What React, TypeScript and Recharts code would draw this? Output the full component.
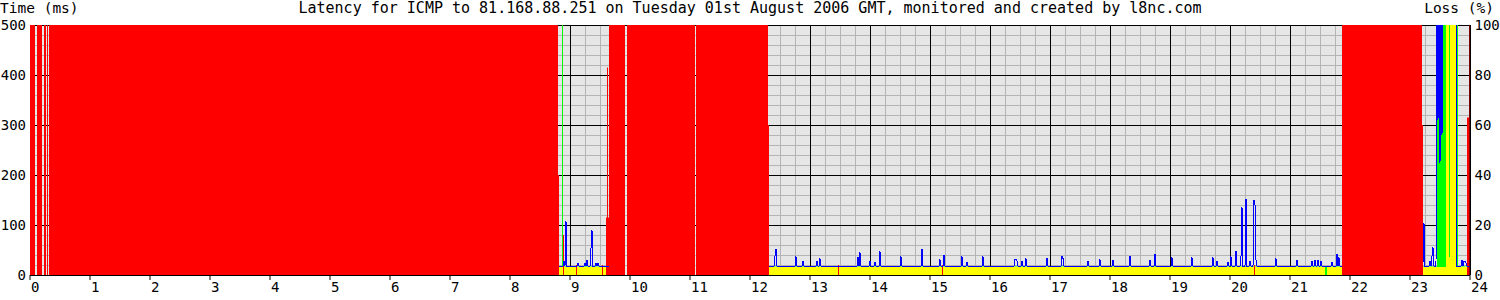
import { ComposedChart, Area, Line, XAxis, YAxis, CartesianGrid } from "recharts";

// one sample per minute of the day
const DAY_MINUTES = 1440;

// red: packet loss in %, [startMinute, endMinute (exclusive), percent]
const lossSpans: [number, number, number][] = [
  [0, 5, 100], [7, 12, 100], [14, 16, 100], [17, 18, 100], [19, 528, 100], [528, 529, 40],
  [533, 534, 16], [546, 547, 4], [572, 573, 4],
  [576, 577, 23], [577, 578, 83], [578, 579, 23], [579, 595, 100],
  [597, 665, 100], [666, 738, 100], [738, 739, 60],
  [808, 809, 4], [912, 913, 4], [1224, 1225, 4],
  [1312, 1392, 100], [1392, 1393, 60],
  [1437, 1439, 63], [1439, 1440, 100],
];

// minutes (inclusive) where latency was measured
const upSpans: [number, number][] = [
  [529, 579],
  [739, 1312],
  [1393, 1440],
];

// typical values in the measured periods (ms)
const baseMin = 16;
const baseMax = 17;
const baseAvg = 18;

// yellow floor, green ceiling and blue line overrides: [start, end (exclusive), ms]
const minOverrides: [number, number, number][] = [
  [1416, 1427, 600],
  [1419, 1420, 36],
];
const maxOverrides: [number, number, number][] = [
  [532, 533, 600],
  [1407, 1428, 600],
];
const avgOverrides: [number, number, number][] = [
  [1407, 1427, 600],
];

// blue spikes: [minute, ms]
const avgSpikes: [number, number][] = [
  [534, 27], [536, 108], [548, 24], [555, 23], [557, 30], [561, 54], [562, 90], [566, 24], [568, 24],
  [745, 37], [746, 52], [766, 37], [773, 27], [787, 27], [790, 33], [828, 36], [830, 45],
  [840, 27], [845, 25], [850, 47], [871, 37], [892, 52], [910, 31], [914, 40], [932, 37],
  [937, 25], [953, 37], [985, 31], [986, 31], [987, 28], [992, 27], [996, 33], [1017, 34],
  [1032, 37], [1033, 33], [1058, 28], [1070, 31], [1083, 30], [1100, 38], [1120, 30],
  [1125, 42], [1142, 35], [1162, 35], [1183, 35], [1187, 28], [1198, 26], [1201, 37],
  [1206, 48], [1211, 37], [1212, 135], [1216, 152], [1220, 28], [1224, 149], [1225, 141],
  [1226, 30], [1246, 33], [1267, 30], [1282, 28], [1285, 30], [1288, 30], [1291, 27],
  [1302, 25], [1307, 42], [1309, 35],
  [1393, 24], [1394, 103], [1400, 27], [1402, 37], [1403, 55],
  [1408, 310], [1410, 224], [1412, 280],
  [1432, 30], [1434, 27], [1435, 27], [1436, 24],
];

// minutes with no floor reading
const minGaps = [1296];

const hourTicks = [
  0, 60, 120, 180, 240, 300, 360, 420, 480, 540, 600, 660, 720,
  780, 840, 900, 960, 1020, 1080, 1140, 1200, 1260, 1320, 1380, 1440,
];
const msTicks = [0, 100, 200, 300, 400, 500];
const lossTicks = [0, 20, 40, 60, 80, 100];

type Row = { m: number; loss: number; min: number | null; max: number | null; avg: number | null };

const rows: Row[] = [];
for (let m = 0; m <= DAY_MINUTES; m++) rows.push({ m, loss: 0, min: null, max: null, avg: null });
for (const [s, e, p] of lossSpans) for (let m = s; m < e; m++) rows[m].loss = p;
for (const [s, e] of upSpans)
  for (let m = s; m <= e; m++) {
    rows[m].min = baseMin;
    rows[m].max = baseMax;
    rows[m].avg = baseAvg;
  }
for (const [s, e, v] of minOverrides) for (let m = s; m < e; m++) rows[m].min = v;
for (const [s, e, v] of maxOverrides) for (let m = s; m < e; m++) rows[m].max = v;
for (const [s, e, v] of avgOverrides) for (let m = s; m < e; m++) rows[m].avg = v;
for (const [m, v] of avgSpikes) rows[m].avg = v;
for (const m of minGaps) rows[m].min = null;

const MONO = "'DejaVu Sans Mono', 'Liberation Mono', monospace";

const minorV = Array.from({ length: 97 }, (_, i) => i * 15);
const minorH = Array.from({ length: 26 }, (_, i) => i * 20);

function HourTick({ x, y, payload }: any) {
  return (
    <text x={x + 1} y={y} dy={10} textAnchor="start" fontFamily={MONO} fontSize={14} fill="#000">
      {payload.value / 60}
    </text>
  );
}

export default function App() {
  return (
    <div style={{ position: "absolute", left: 0, top: 0, width: 1500, height: 300, background: "#fff" }}>
      <div style={{ position: "absolute", left: 0, top: 1, width: 1500, textAlign: "center", fontFamily: MONO, fontSize: 15, lineHeight: "15px", whiteSpace: "pre" }}>
        Latency for ICMP to 81.168.88.251 on Tuesday 01st August 2006 GMT, monitored and created by l8nc.com
      </div>
      <div style={{ position: "absolute", left: 0, top: 1, fontFamily: MONO, fontSize: 14.5, lineHeight: "15px", whiteSpace: "pre" }}>
        Time (ms)
      </div>
      <div style={{ position: "absolute", right: 6, top: 1, fontFamily: MONO, fontSize: 14.5, lineHeight: "15px", whiteSpace: "pre" }}>
        Loss (%)
      </div>
      <ComposedChart width={1500} height={300} data={rows} margin={{ top: 25, right: 0, bottom: 0, left: 0 }}>
        <CartesianGrid
          fill="#e6e6e6"
          stroke="#b4b4b4"
          verticalValues={minorV}
          horizontalValues={minorH}
          shapeRendering="crispEdges"
        />
        <CartesianGrid
          stroke="#000"
          verticalValues={hourTicks}
          horizontalValues={msTicks}
          shapeRendering="crispEdges"
        />
        <XAxis
          dataKey="m"
          type="number"
          domain={[0, DAY_MINUTES]}
          ticks={hourTicks}
          interval={0}
          height={25}
          axisLine={false}
          tickLine={{ stroke: "#000" }}
          tickSize={5}
          tickMargin={2}
          tick={HourTick}
        />
        <YAxis
          domain={[0, 500]}
          allowDataOverflow
          ticks={msTicks}
          interval={0}
          width={30}
          axisLine={false}
          tickLine={false}
          tickSize={2}
          tickMargin={2}
          tick={{ fontFamily: MONO, fontSize: 14, fill: "#000" }}
        />
        <YAxis
          yAxisId="loss"
          orientation="right"
          domain={[0, 100]}
          ticks={lossTicks}
          interval={0}
          width={30}
          axisLine={{ stroke: "#000" }}
          tickLine={false}
          tickSize={2}
          tickMargin={2.5}
          tick={{ fontFamily: MONO, fontSize: 14, fill: "#000", textAnchor: "start" }}
        />
        <Area
          dataKey="max"
          type="stepAfter"
          fill="#00ff00"
          fillOpacity={1}
          stroke="none"
          connectNulls={false}
          dot={false}
          activeDot={false}
          isAnimationActive={false}
        />
        <Area
          dataKey="min"
          type="stepAfter"
          fill="#ffff00"
          fillOpacity={1}
          stroke="none"
          connectNulls={false}
          dot={false}
          activeDot={false}
          isAnimationActive={false}
        />
        <Line
          dataKey="avg"
          type="linear"
          stroke="#0000ff"
          strokeWidth={1}
          connectNulls={false}
          dot={false}
          activeDot={false}
          isAnimationActive={false}
          shapeRendering="crispEdges"
        />
        <Area
          dataKey="loss"
          yAxisId="loss"
          type="stepAfter"
          fill="#ff0000"
          fillOpacity={1}
          stroke="none"
          dot={false}
          activeDot={false}
          isAnimationActive={false}
        />
      </ComposedChart>
    </div>
  );
}
